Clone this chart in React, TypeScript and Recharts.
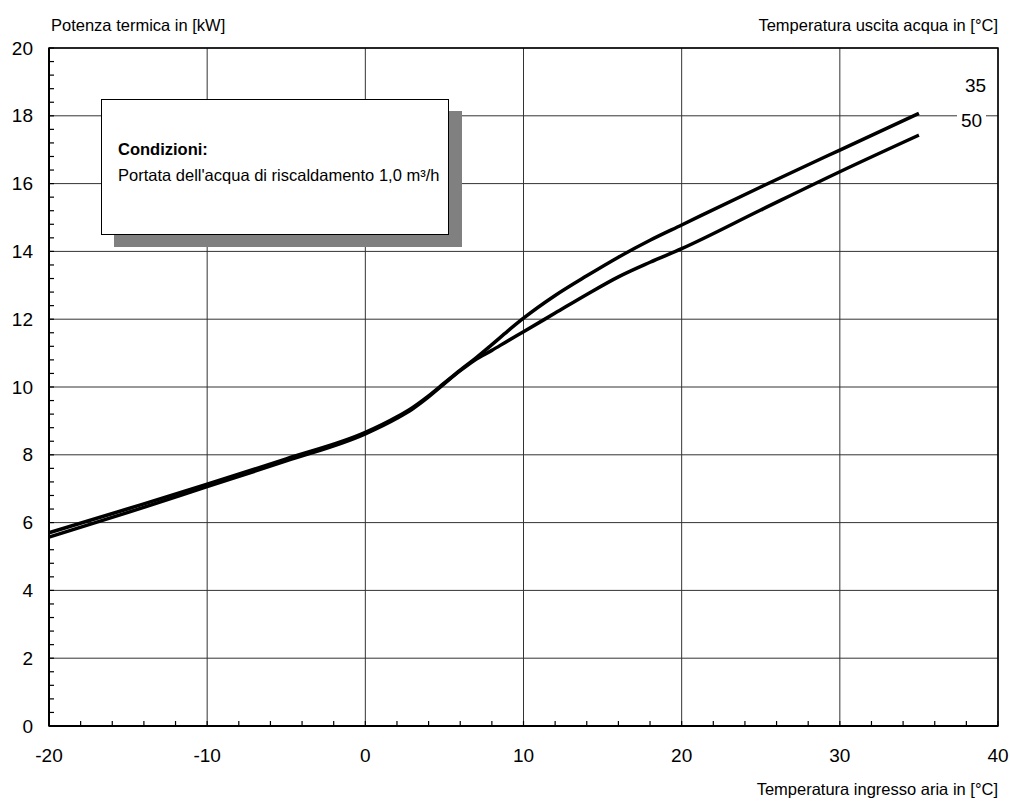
import { CartesianGrid, Line, LineChart, ReferenceArea, XAxis, YAxis } from "recharts";

// air inlet temperature [°C]
const airTemp = [-20, -15, -10, -5, 0, 2, 3, 4, 5, 6, 7, 8, 9, 10, 12, 14, 16, 18, 20, 25, 30, 35];
// heat output [kW] for water outlet 35 °C and 50 °C
const power35 = [5.7, 6.41, 7.13, 7.88, 8.66, 9.12, 9.4, 9.74, 10.12, 10.5, 10.86, 11.25, 11.65, 12.03, 12.7, 13.28, 13.83, 14.33, 14.78, 15.9, 16.99, 18.07];
const power50 = [5.57, 6.3, 7.06, 7.82, 8.62, 9.08, 9.36, 9.71, 10.1, 10.48, 10.82, 11.08, 11.36, 11.63, 12.18, 12.73, 13.25, 13.68, 14.08, 15.22, 16.35, 17.43];

const xMajor = [-20, -10, 0, 10, 20, 30, 40];
const xTicks = [-20, -18, -16, -14, -12, -10, -8, -6, -4, -2, 0, 2, 4, 6, 8, 10, 12, 14, 16, 18, 20, 22, 24, 26, 28, 30, 32, 34, 36, 38, 40];
const yMajor = [0, 2, 4, 6, 8, 10, 12, 14, 16, 18, 20];
const yTicks = [
  0, 0.4, 0.8, 1.2, 1.6, 2, 2.4, 2.8, 3.2, 3.6, 4, 4.4, 4.8, 5.2, 5.6, 6, 6.4, 6.8, 7.2, 7.6, 8, 8.4, 8.8, 9.2, 9.6, 10,
  10.4, 10.8, 11.2, 11.6, 12, 12.4, 12.8, 13.2, 13.6, 14, 14.4, 14.8, 15.2, 15.6, 16, 16.4, 16.8, 17.2, 17.6, 18, 18.4, 18.8,
  19.2, 19.6, 20,
];

const data = airTemp.map((x, i) => ({ x, t35: power35[i], t50: power50[i] }));

const W = 1010;
const H = 801;
const LEFT = 49;
const TOP = 48;
const RIGHT = 12;
const XAXIS_H = 75;
const AXIS_Y = H - XAXIS_H;
const FONT = "'Liberation Sans', Arial, sans-serif";

const XTick = (props: any) => {
  const { x, payload } = props;
  const major = xMajor.includes(payload.value);
  return (
    <g>
      <line x1={x} x2={x} y1={AXIS_Y} y2={AXIS_Y - 5} stroke="#000" strokeWidth={1.2} />
      {major && (
        <text x={x} y={AXIS_Y + 36} textAnchor="middle" fontSize={19} fontFamily={FONT} fill="#000">
          {payload.value}
        </text>
      )}
    </g>
  );
};

const YTick = (props: any) => {
  const { y, payload } = props;
  const major = yMajor.includes(payload.value);
  return (
    <g>
      <line x1={LEFT} x2={LEFT + 5} y1={y} y2={y} stroke="#000" strokeWidth={1.2} />
      {major && (
        <text x={33} y={y} dy="0.35em" textAnchor="end" fontSize={19} fontFamily={FONT} fill="#000">
          {payload.value}
        </text>
      )}
    </g>
  );
};

const label = (extra: React.CSSProperties): React.CSSProperties => ({
  position: "absolute",
  fontFamily: FONT,
  fontSize: 16.5,
  color: "#000",
  whiteSpace: "nowrap",
  lineHeight: 1,
  ...extra,
});

export default function App() {
  return (
    <div style={{ position: "absolute", left: 0, top: 0, width: W, height: H, background: "#fff" }}>
      <LineChart width={W} height={H} data={data} margin={{ top: TOP, right: RIGHT, bottom: 0, left: 0 }}>
        <CartesianGrid verticalValues={xMajor} horizontalValues={yMajor} stroke="#333" strokeWidth={1} />
        <XAxis
          type="number"
          dataKey="x"
          domain={[-20, 40]}
          ticks={xTicks}
          interval={0}
          height={XAXIS_H}
          tickLine={false}
          axisLine={{ stroke: "#000", strokeWidth: 2 }}
          tick={XTick}
        />
        <YAxis
          type="number"
          domain={[0, 20]}
          ticks={yTicks}
          interval={0}
          width={LEFT}
          tickLine={false}
          axisLine={{ stroke: "#000", strokeWidth: 2 }}
          tick={YTick}
        />
        <ReferenceArea x1={-20} x2={40} y1={0} y2={20} fill="none" stroke="#000" strokeWidth={1.5} ifOverflow="visible" />
        <Line type="monotone" dataKey="t35" stroke="#000" strokeWidth={3.5} dot={false} isAnimationActive={false} />
        <Line type="monotone" dataKey="t50" stroke="#000" strokeWidth={3.5} dot={false} isAnimationActive={false} />
      </LineChart>

      <div style={label({ left: 51, top: 17 })}>Potenza termica in [kW]</div>
      <div style={label({ right: W - 998, top: 17 })}>Temperatura uscita acqua in [°C]</div>
      <div style={label({ right: W - 998, top: 781 })}>Temperatura ingresso aria in [°C]</div>

      <div style={label({ left: 965, top: 76, fontSize: 19 })}>35</div>
      <div style={label({ left: 957, top: 107, fontSize: 19, background: "#fff", padding: "4px 4px 4px 4px" })}>50</div>

      <div
        style={{
          position: "absolute",
          left: 101,
          top: 99,
          width: 348,
          height: 136,
          boxSizing: "border-box",
          border: "1.5px solid #000",
          background: "#fff",
          boxShadow: "13px 12px 0 #808080",
          fontFamily: FONT,
          fontSize: 16.5,
        }}
      >
        <div style={{ position: "absolute", left: 16, top: 41, fontWeight: "bold", lineHeight: 1 }}>Condizioni:</div>
        <div style={{ position: "absolute", left: 16, top: 67, lineHeight: 1, whiteSpace: "nowrap" }}>
          Portata dell'acqua di riscaldamento 1,0 m³/h
        </div>
      </div>
    </div>
  );
}
